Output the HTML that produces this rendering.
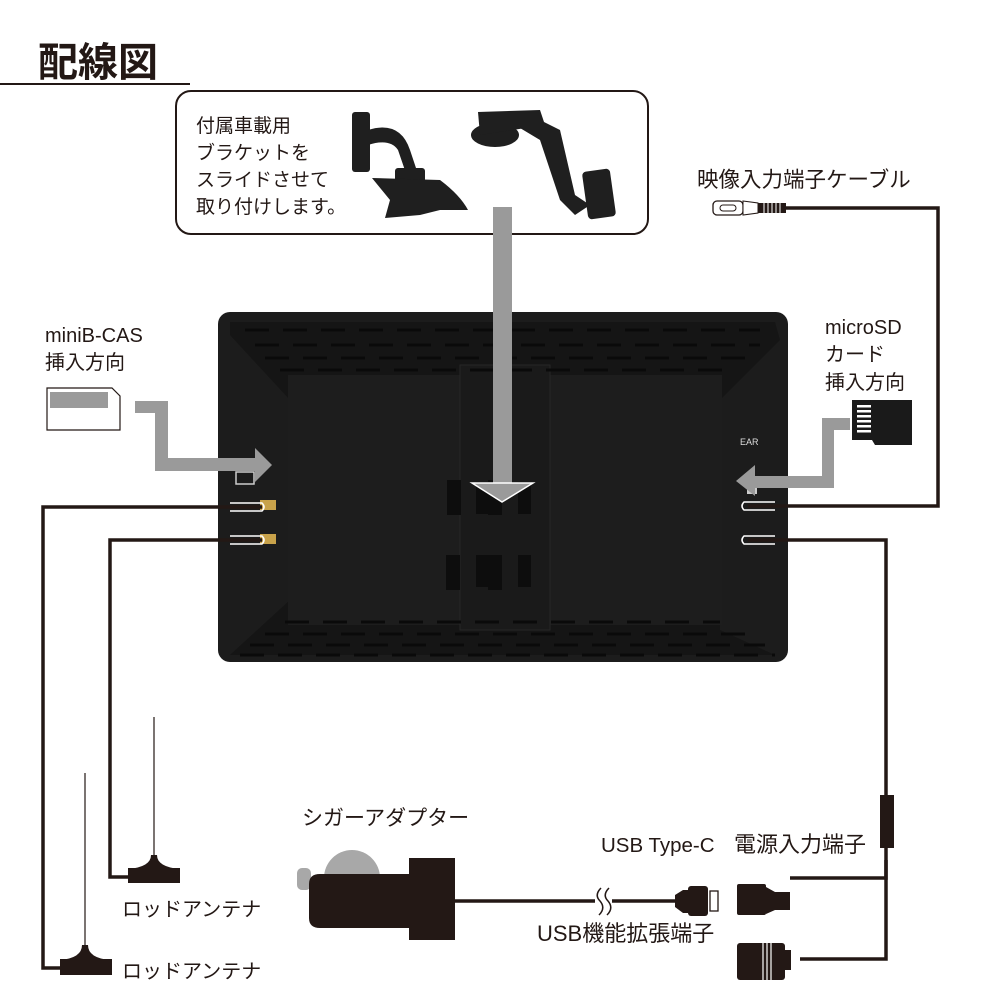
<!DOCTYPE html>
<html><head><meta charset="utf-8"><style>
html,body{margin:0;padding:0;background:#fff;}
svg{display:block;font-family:"Liberation Sans","Noto Sans CJK JP",sans-serif;}
</style></head><body>
<svg width="1000" height="1000" viewBox="0 0 1000 1000" xmlns="http://www.w3.org/2000/svg">
<rect width="1000" height="1000" fill="#fff"/>
<text x="38" y="76" font-size="40" font-weight="bold" fill="#231815">配線図</text>
<line x1="0" y1="84" x2="190" y2="84" stroke="#231815" stroke-width="2"/>
<rect x="176" y="91" width="472" height="143" rx="15" fill="#fff" stroke="#231815" stroke-width="2"/>
<g font-size="19" fill="#231815">
<text x="196" y="132">付属車載用</text>
<text x="196" y="159">ブラケットを</text>
<text x="196" y="186">スライドさせて</text>
<text x="196" y="213">取り付けします。</text>
</g>
<g fill="#1f1f1f">
<rect x="352" y="112" width="18" height="60" rx="3"/>
<path d="M368 130 Q400 120 410 150 L420 180 L410 185 L398 150 Q390 138 368 145Z"/>
<rect x="395" y="168" width="30" height="40" rx="3"/>
<path d="M372 178 L440 180 Q460 195 468 210 L440 210 L420 215 L385 218 L390 200 Z"/>
</g>
<g fill="#1f1f1f">
<ellipse cx="495" cy="135" rx="24" ry="12"/>
<path d="M478 112 L540 110 L545 125 L480 135Z"/>
<path d="M530 115 L560 130 L575 195 L590 205 L575 215 L560 200 L540 140 L520 128Z"/>
<rect x="585" y="170" width="28" height="48" rx="4" transform="rotate(-8 599 194)"/>
</g>
<rect x="218" y="312" width="570" height="350" rx="12" fill="#1c1c1c"/>
<path d="M230 322 L775 322 L780 340 L730 390 L720 400 L720 630 L775 655 L230 655 L290 600 L290 400 L230 335Z" fill="#151515"/>
<rect x="288" y="375" width="434" height="250" fill="#1d1d1d"/>
<rect x="460" y="365" width="90" height="265" fill="#1a1a1a" stroke="#262626"/>
<g stroke="#0a0a0a" stroke-width="3" stroke-dasharray="24 14">
<line x1="245" y1="330" x2="760" y2="330"/>
<line x1="255" y1="345" x2="760" y2="345"/>
<line x1="265" y1="358" x2="745" y2="358"/>
<line x1="280" y1="370" x2="735" y2="370"/>
<line x1="285" y1="622" x2="720" y2="622"/>
<line x1="265" y1="634" x2="750" y2="634"/>
<line x1="250" y1="645" x2="765" y2="645"/>
<line x1="240" y1="655" x2="775" y2="655"/>
</g>
<g fill="#0d0d0d">
<rect x="447" y="480" width="14" height="35"/><rect x="488" y="480" width="14" height="35"/>
<rect x="446" y="555" width="14" height="35"/><rect x="488" y="555" width="14" height="35"/>
<rect x="476" y="482" width="13" height="32"/><rect x="518" y="482" width="13" height="32"/>
<rect x="476" y="555" width="13" height="32"/><rect x="518" y="555" width="13" height="32"/>
</g>
<text x="740" y="445" font-size="9" fill="#ddd">EAR</text>
<rect x="236" y="472" width="18" height="12" fill="none" stroke="#ccc" stroke-width="1.5"/>
<rect x="260" y="500" width="16" height="10" fill="#c8a24a"/>
<rect x="260" y="534" width="16" height="10" fill="#c8a24a"/>
<rect x="747" y="482" width="10" height="12" fill="#ccc"/>
<rect x="493" y="207" width="19" height="278" fill="#9a9a9a"/>
<path d="M472 483 L533 483 L502 502Z" fill="#9a9a9a" stroke="#fff" stroke-width="1.5"/>
<path d="M135 401 L168 401 L168 458 L255 458 L255 448 L272 465 L255 482 L255 471 L155 471 L155 413 L135 413Z" fill="#9a9a9a"/>
<path d="M850 418 L822 418 L822 476 L755 476 L755 465 L736 481 L755 496 L755 488 L834 488 L834 430 L850 430Z" fill="#9a9a9a"/>
<g font-size="20" fill="#231815">
<text x="45" y="342">miniB-CAS</text>
<text x="45" y="369">挿入方向</text>
<text x="825" y="334">microSD</text>
<text x="825" y="361">カード</text>
<text x="825" y="389">挿入方向</text>
<text x="697" y="187" font-size="21.5">映像入力端子ケーブル</text>
<text x="122" y="916">ロッドアンテナ</text>
<text x="122" y="978">ロッドアンテナ</text>
<text x="302" y="825" font-size="21">シガーアダプター</text>
<text x="601" y="852" font-size="20.5">USB Type-C</text>
<text x="734" y="852" font-size="22">電源入力端子</text>
<text x="537" y="941" font-size="22">USB機能拡張端子</text>
</g>
<path d="M47 388 L112 388 L120 396 L120 430 L47 430Z" fill="#fff" stroke="#231815" stroke-width="1.2"/>
<rect x="50" y="392" width="58" height="16" fill="#9a9a9a"/>
<path d="M852 400 L912 400 L912 445 L875 445 L872 440 L852 440Z" fill="#1a1a1a"/>
<g fill="#fff"><rect x="857" y="405" width="14" height="2.5"/><rect x="857" y="410" width="14" height="2.5"/><rect x="857" y="415" width="14" height="2.5"/><rect x="857" y="420" width="14" height="2.5"/><rect x="857" y="425" width="14" height="2.5"/><rect x="857" y="430" width="14" height="2.5"/></g>
<rect x="713" y="201" width="30" height="14" rx="4" fill="#fff" stroke="#231815" stroke-width="1.3"/>
<rect x="720" y="205" width="16" height="6" rx="3" fill="none" stroke="#231815"/>
<path d="M743 201 L758 203 L758 213 L743 215Z" fill="#fff" stroke="#231815"/>
<rect x="758" y="203" width="28" height="10" fill="#231815"/>
<g stroke="#fff" stroke-width="1"><line x1="764" y1="203" x2="764" y2="213"/><line x1="768" y1="203" x2="768" y2="213"/><line x1="772" y1="203" x2="772" y2="213"/><line x1="776" y1="203" x2="776" y2="213"/><line x1="780" y1="203" x2="780" y2="213"/></g>
<g fill="none" stroke="#231815" stroke-width="3.5">
<polyline points="786,208 938,208 938,506 748,506"/>
<polyline points="262,507 43,507 43,968 62,968"/>
<polyline points="262,540 110,540 110,877 130,877"/>
<polyline points="748,540 886,540 886,795"/>
<polyline points="886,848 886,878 790,878"/>
<polyline points="886,860 886,959 800,959"/>
<line x1="455" y1="901" x2="595" y2="901"/>
<line x1="612" y1="901" x2="675" y2="901"/>
</g>
<g fill="none" stroke="#fff" stroke-width="1.5">
<path d="M230 503 L262 503 Q266 507 262 511 L230 511"/>
<path d="M230 536 L262 536 Q266 540 262 544 L230 544"/>
<path d="M775 502 L744 502 Q740 506 744 510 L775 510"/>
<path d="M775 536 L744 536 Q740 540 744 544 L775 544"/>
</g>
<path d="M601 888 Q594 895 600 901 Q606 908 599 915 M609 888 Q602 895 608 901 Q614 908 607 915" fill="none" stroke="#231815" stroke-width="1.5"/>
<line x1="85" y1="773" x2="85" y2="950" stroke="#231815" stroke-width="1.2"/>
<path d="M82 945 L88 945 Q88 958 110 960 L60 960 Q82 958 82 945Z" fill="#231815"/>
<rect x="60" y="959" width="52" height="16" fill="#231815"/>
<line x1="154" y1="717" x2="154" y2="860" stroke="#231815" stroke-width="1.2"/>
<path d="M151 855 L157 855 Q157 867 180 869 L128 869 Q151 867 151 855Z" fill="#231815"/>
<rect x="128" y="868" width="52" height="15" fill="#231815"/>
<circle cx="352" cy="878" r="28" fill="#a8a8a8"/>
<rect x="297" y="868" width="14" height="22" rx="5" fill="#a8a8a8"/>
<path d="M320 874 L409 874 L409 928 L320 928 Q309 928 309 918 L309 884 Q309 874 320 874Z" fill="#231815"/>
<rect x="409" y="858" width="46" height="82" fill="#231815"/>
<path d="M675 895 L683 890 L690 890 L690 913 L683 913 L675 907Z" fill="#231815"/>
<rect x="688" y="886" width="20" height="30" rx="3" fill="#231815"/>
<rect x="710" y="891" width="8" height="20" fill="#fff" stroke="#231815" stroke-width="1.3"/>
<rect x="737" y="884" width="29" height="31" rx="2" fill="#231815"/>
<path d="M766 887 L775 892 L790 892 L790 910 L775 910 L766 914Z" fill="#231815"/>
<rect x="880" y="795" width="14" height="53" fill="#231815"/>
<rect x="737" y="943" width="48" height="37" rx="3" fill="#231815"/>
<g stroke="#fff" stroke-width="1.2"><line x1="763" y1="943" x2="763" y2="980"/><line x1="767" y1="943" x2="767" y2="980"/><line x1="771" y1="943" x2="771" y2="980"/></g>
<rect x="785" y="950" width="6" height="20" fill="#231815"/>
</svg>
</body></html>
